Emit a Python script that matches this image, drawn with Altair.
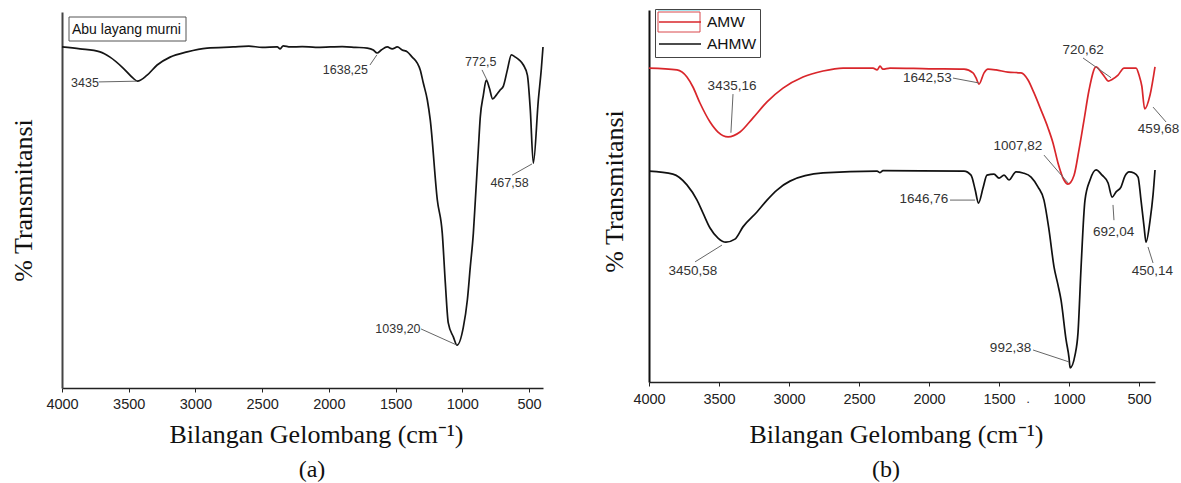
import altair as alt
import pandas as pd

# ---------------- Panel (a): pure fly ash (Abu layang murni) ----------------
a_wn = [4000, 3865, 3715, 3640, 3542, 3467, 3435, 3362, 3287, 3190, 3062, 2912,
        2717, 2600, 2500, 2387, 2365, 2342, 2290, 2200, 2100, 1990, 1900, 1800,
        1712, 1667, 1638.25, 1607, 1562, 1525, 1487, 1450, 1412, 1375, 1337, 1315,
        1292, 1262, 1240, 1187, 1150, 1127, 1105, 1067, 1039.2, 992, 962, 940, 917,
        902, 880, 865, 842, 820, 797, 772.5, 745, 715, 692, 662, 632, 602, 572, 542,
        512, 490, 467.58, 430, 407, 395]
a_t = [90.7, 90.2, 89.4, 88.0, 85.1, 82.4, 81.6, 83.2, 85.9, 88.0, 89.4, 90.4,
       90.7, 90.9, 90.6, 90.7, 90.2, 91.0, 90.7, 90.8, 90.6, 90.7, 90.8, 90.6,
       90.4, 89.9, 89.1, 89.9, 90.7, 90.2, 90.7, 89.9, 89.4, 88.0, 86.4, 84.6,
       81.1, 76.6, 71.3, 50.0, 41.2, 27.9, 17.3, 13.6, 11.4, 16.2, 23.4, 32.2, 41.2,
       50.0, 63.3, 72.1, 77.9, 81.9, 79.8, 76.9, 77.9, 79.3, 80.3, 84.6, 88.6, 88.0,
       87.2, 85.9, 83.2, 73.9, 59.8, 76.6, 85.1, 90.7]
a_name = "Abu layang murni"

a_lab = ["3435", "1638,25", "772,5", "467,58", "1039,20"]
a_lab_wn = [3828, 1876, 862, 646, 1482]
a_lab_t = [81.1, 84.6, 86.7, 54.5, 15.7]
a_lead_wn = [3725, 1692, 852, 627, 1309]
a_lead_t = [81.4, 85.9, 84.6, 56.6, 15.7]
a_lead_wn2 = [3440, 1640, 815, 477, 1040]
a_lead_t2 = [81.6, 88.6, 81.9, 59.6, 11.4]

# ---------------- Panel (b): AMW and AHMW ----------------
amw_wn = [4000, 3800, 3729, 3686, 3636, 3564, 3507, 3435.16, 3350, 3257, 3157, 3043,
          2900, 2757, 2614, 2400, 2371, 2350, 2329, 2279, 2000, 1750, 1686, 1665,
          1642.53, 1607, 1579, 1521, 1436, 1343, 1293, 1250, 1200, 1150, 1114, 1079,
          1036, 1007.82, 964, 929, 893, 857, 807, 771, 745, 720.62, 690, 650, 607,
          521, 500, 480, 459.68, 421, 386]
amw_t = [84.4, 83.9, 82.0, 79.3, 75.0, 69.9, 67.2, 65.9, 67.2, 71.0, 75.3, 79.0,
         82.0, 83.6, 84.4, 84.4, 83.9, 84.9, 84.1, 84.4, 84.2, 84.1, 83.1, 81.8,
         80.1, 83.1, 84.1, 83.9, 83.3, 83.1, 81.2, 77.7, 73.1, 68.3, 64.2, 58.9,
         54.3, 53.2, 55.6, 62.4, 70.4, 78.5, 84.7, 83.3, 82.0, 80.9, 81.4, 82.5, 84.4,
         84.4, 82.5, 79.5, 73.4, 77.2, 84.7]

ahmw_wn = [4000, 3829, 3729, 3657, 3614, 3564, 3507, 3450.58, 3386, 3329, 3229, 3157,
           3086, 2993, 2757, 2371, 2350, 2329, 1750, 1700, 1670, 1646.76, 1614, 1586,
           1536, 1500, 1464, 1429, 1379, 1329, 1271, 1221, 1179, 1143, 1107, 1079,
           1057, 1021, 1000, 992.38, 957, 936, 914, 886, 850, 807, 764, 721, 692.04,
           664, 629, 600, 571, 536, 507, 486, 464, 450.14, 421, 400, 386]
ahmw_t = [56.7, 55.9, 53.0, 48.9, 45.4, 41.4, 38.7, 37.6, 38.4, 41.7, 45.7, 48.9,
          51.6, 54.0, 56.2, 56.7, 56.3, 56.8, 56.7, 55.6, 51.6, 48.1, 52.2, 55.6,
          55.9, 54.8, 55.6, 54.3, 56.5, 56.2, 55.1, 52.4, 48.9, 40.9, 30.9, 26.1,
          22.0, 11.3, 6.5, 3.8, 7.3, 13.2, 30.9, 48.9, 54.3, 57.0, 55.6, 53.5, 49.7,
          51.1, 52.4, 55.4, 56.5, 56.2, 55.1, 48.9, 41.7, 37.6, 43.5, 50.3, 57.0]

b_lab = ["3435,16", "1642,53", "720,62", "459,68", "1007,82",
         "1646,76", "692,04", "450,14", "992,38", "3450,58", "."]
b_lab_wn = [3407, 2011, 900, 361, 1365, 2036, 682, 404, 1418, 3686, 1293]
b_lab_t = [79.6, 81.7, 89.2, 68.0, 63.4, 49.2, 40.3, 29.8, 9.1, 29.8, -4.6]
b_lead_wn = [3400, 1829, 900, 400, 1179, 1850, 686, 436, 1257, 3671]
b_lead_t = [77.4, 81.7, 87.1, 73.9, 61.0, 48.9, 47.6, 36.3, 8.6, 32.3]
b_lead_wn2 = [3415, 1645, 700, 307, 1007, 1671, 679, 400, 1000, 3479]
b_lead_t2 = [67.0, 80.4, 81.8, 69.9, 53.5, 48.9, 43.5, 32.0, 5.4, 36.8]

tick_values = [4000, 3500, 3000, 2500, 2000, 1500, 1000, 500]
series_b = ["AMW", "AHMW"]
colors_b = ["#d9262b", "#111111"]

SANS = "Liberation Sans"
SERIF = "Liberation Serif"
X_TITLE = "Bilangan Gelombang (cm\u207b\u00b9)"
Y_TITLE = "% Transmitansi"


def x_axis(title_x, title_y, offset, pad):
    return alt.Axis(values=tick_values, format="d", orient="bottom", offset=offset,
                    title=X_TITLE, titleFont=SERIF, titleFontSize=26,
                    titleFontWeight="normal", titleColor="#111", titleX=title_x,
                    titleY=title_y, titleAlign="center", titleBaseline="alphabetic",
                    titleAngle=0, labelFont=SANS, labelFontSize=14.5, labelColor="#222",
                    labelBaseline="middle", labelPadding=pad, labelFlush=False,
                    labelOverlap=False, tickSize=4, tickColor="#222", tickWidth=1,
                    domainColor="#222", domainWidth=1.6, grid=False)


def y_axis(title_x, title_y, offset, color):
    return alt.Axis(orient="left", offset=offset, title=Y_TITLE, titleFont=SERIF,
                    titleFontSize=26, titleFontWeight="normal", titleColor="#111",
                    titleAngle=270, titleX=title_x, titleY=title_y, titleAlign="center",
                    titleBaseline="alphabetic", labels=False, ticks=False, grid=False,
                    domainColor=color, domainWidth=2)


# shared scales of each panel (pixel ranges place the two panels side by side)
xa = alt.Scale(domain=[4000, 395], range=[0, 481], nice=False, zero=False)
ya = alt.Scale(domain=[0, 100], range=[376, 0], nice=False, zero=False)
xb = alt.Scale(domain=[4000, 386], range=[587, 1093], nice=False, zero=False)
yb = alt.Scale(domain=[0, 100], range=[370, -2], nice=False, zero=False)

Xa = alt.X("wn:Q", scale=xa, axis=x_axis(254, 54, 0, 12))
Ya = alt.Y("t:Q", scale=ya, axis=y_axis(-31, 188, 0, "#444"))
Xb = alt.X("wn:Q", scale=xb, axis=x_axis(834, 60, -6, 13))
Yb = alt.Y("t:Q", scale=yb, axis=y_axis(-27, 179, -587, "#111"))

# ---------------- panel (a) layers ----------------
df_a = pd.DataFrame({"wn": a_wn, "t": a_t})
line_a = alt.Chart(df_a).mark_line(
    strokeWidth=1.7, interpolate="monotone", color="#151515").encode(x=Xa, y=Ya)
lead_a = alt.Chart(pd.DataFrame({"wn": a_lead_wn, "t": a_lead_t,
                                 "wn2": a_lead_wn2, "t2": a_lead_t2})).mark_rule(
    color="#666", strokeWidth=1).encode(x=Xa, y=Ya, x2="wn2:Q", y2="t2:Q")
text_a = alt.Chart(pd.DataFrame({"wn": a_lab_wn, "t": a_lab_t, "txt": a_lab})).mark_text(
    font=SANS, fontSize=12.5, color="#333", align="center", baseline="middle").encode(
    x=Xa, y=Ya, text="txt:N")
# sample name in a framed box at the top left of the panel
name_box_a = alt.Chart(pd.DataFrame({"k": [0]})).mark_rect(
    fillOpacity=0, stroke="#555", strokeWidth=1).encode(
    x=alt.value(7), x2=alt.value(124), y=alt.value(5), y2=alt.value(29))
name_a = alt.Chart(pd.DataFrame({"txt": [a_name]})).mark_text(
    font=SANS, fontSize=14, color="#111", align="left", baseline="middle").encode(
    x=alt.value(10), y=alt.value(17.5), text="txt:N")
cap_a = alt.Chart(pd.DataFrame({"txt": ["(a)"]})).mark_text(
    font=SERIF, fontSize=24, color="#111", align="center", baseline="alphabetic").encode(
    x=alt.value(250), y=alt.value(465), text="txt:N")
panel_a = alt.layer(line_a, lead_a, text_a, name_box_a, name_a, cap_a)

# ---------------- panel (b) layers ----------------
df_b = pd.concat([
    pd.DataFrame({"wn": amw_wn, "t": amw_t, "series": "AMW"}),
    pd.DataFrame({"wn": ahmw_wn, "t": ahmw_t, "series": "AHMW"}),
])
line_b = alt.Chart(df_b).mark_line(strokeWidth=1.7, interpolate="monotone").encode(
    x=Xb, y=Yb,
    color=alt.Color("series:N", title=None, sort=series_b,
                    scale=alt.Scale(domain=series_b, range=colors_b),
                    legend=alt.Legend(orient="none", legendX=593, legendY=-3,
                                      strokeColor="#444", padding=3, symbolType="stroke",
                                      symbolSize=1764, symbolStrokeWidth=1.6,
                                      clipHeight=20, rowPadding=2, labelOffset=5,
                                      labelFont=SANS, labelFontSize=15.5,
                                      labelColor="#111")))
lead_b = alt.Chart(pd.DataFrame({"wn": b_lead_wn, "t": b_lead_t,
                                 "wn2": b_lead_wn2, "t2": b_lead_t2})).mark_rule(
    color="#666", strokeWidth=1).encode(x=Xb, y=Yb, x2="wn2:Q", y2="t2:Q")
text_b = alt.Chart(pd.DataFrame({"wn": b_lab_wn, "t": b_lab_t, "txt": b_lab})).mark_text(
    font=SANS, fontSize=13.5, color="#333", align="center", baseline="middle").encode(
    x=Xb, y=Yb, text="txt:N")
# frame drawn around the AMW legend sample and the thin line above it
box_b = alt.Chart(pd.DataFrame({"k": [0]})).mark_rect(
    fillOpacity=0, stroke="#d9484c", strokeWidth=1).encode(
    x=alt.value(596), x2=alt.value(638), y=alt.value(0), y2=alt.value(20))
cyan_b = alt.Chart(pd.DataFrame({"k": [0]})).mark_rule(
    color="#8fe3ee", strokeWidth=1.5).encode(
    x=alt.value(596), x2=alt.value(638), y=alt.value(-2))
cap_b = alt.Chart(pd.DataFrame({"txt": ["(b)"]})).mark_text(
    font=SERIF, fontSize=24, color="#111", align="center", baseline="alphabetic").encode(
    x=alt.value(824), y=alt.value(465), text="txt:N")
panel_b = alt.layer(line_b, lead_b, text_b, box_b, cyan_b, cap_b)

chart = alt.layer(panel_a, panel_b).resolve_scale(
    x="independent", y="independent"
).resolve_axis(x="independent", y="independent").properties(
    width=1093, height=376,
    padding={"left": 62, "top": 12, "right": 26, "bottom": 95},
    autosize=alt.AutoSizeParams(type="none"),
    background="white",
).configure_view(strokeWidth=0)

chart.save("out.html", embed_options={"renderer": "svg", "actions": False})
